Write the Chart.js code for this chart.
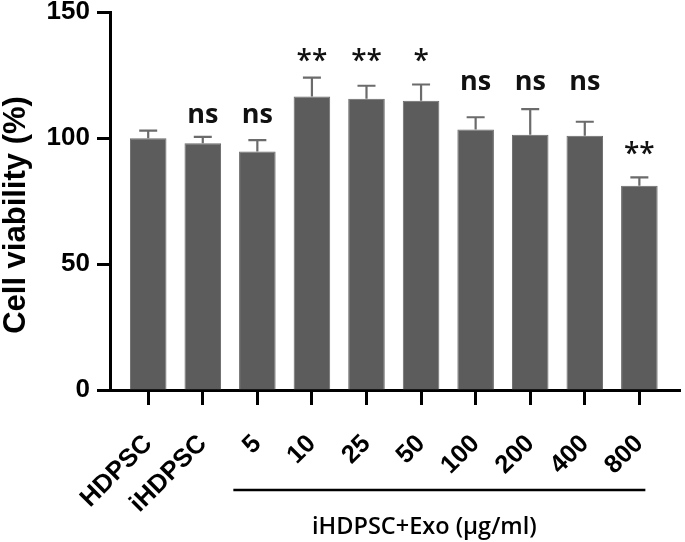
<!DOCTYPE html>
<html>
<head>
<meta charset="utf-8">
<script src="https://cdn.jsdelivr.net/npm/chart.js@4.4.0/dist/chart.umd.min.js"></script>
<style>
  body { margin: 0; background: #fff; }
  #wrap { width: 685px; height: 542px; }
</style>
</head>
<body>
<div id="wrap"><canvas id="viability"></canvas></div>
<script>
const groups = ["HDPSC", "iHDPSC", "5", "10", "25", "50", "100", "200", "400", "800"];
const viability = [100, 98, 94.7, 116.5, 115.6, 114.8, 103.4, 101.3, 100.9, 81.1];
const errorUp = [3.0, 2.5, 4.5, 7.5, 5.2, 6.5, 4.9, 10.2, 5.6, 3.3];
const significance = ["", "ns", "ns", "**", "**", "*", "ns", "ns", "ns", "**"];
const sigLevel = [0, 109, 109, 133, 133, 133, 122, 122, 122, 96];
const yTicks = [0, 50, 100, 150];
const exoFirst = 2, exoLast = 9;
const exoLabel = "iHDPSC+Exo (µg/ml)";
const yTitle = "Cell viability (%)";

// error bars (upper only) + significance marks
const errorBars = {
    id: "errorBars",
    afterDatasetsDraw(chart) {
        const ctx = chart.ctx;
        const y = chart.scales.y;
        const bars = chart.getDatasetMeta(0).data;
        ctx.save();
        ctx.strokeStyle = "#6b6b6b";
        ctx.lineWidth = 2.2;
        bars.forEach((bar, i) => {
            const top = y.getPixelForValue(viability[i] + errorUp[i]);
            ctx.beginPath();
            ctx.moveTo(bar.x, bar.y);
            ctx.lineTo(bar.x, top);
            ctx.moveTo(bar.x - 9, top);
            ctx.lineTo(bar.x + 9, top);
            ctx.stroke();
        });
        ctx.fillStyle = "#111";
        ctx.textAlign = "center";
        ctx.textBaseline = "alphabetic";
        bars.forEach((bar, i) => {
            const s = significance[i];
            if (!s) return;
            ctx.font = s === "ns" ? "bold 27px 'Open Sans'" : "600 28px 'Open Sans'";
            const m = ctx.measureText(s);
            const mid = y.getPixelForValue(sigLevel[i]);
            ctx.fillText(s, bar.x, mid + (m.actualBoundingBoxAscent - m.actualBoundingBoxDescent) / 2);
        });
        ctx.restore();
    }
};

// bracket under the exosome doses, y axis title
const extras = {
    id: "extras",
    afterDraw(chart) {
        const ctx = chart.ctx;
        const x = chart.scales.x;
        const x1 = x.getPixelForValue(exoFirst) - 24;
        const x2 = x.getPixelForValue(exoLast) + 6;
        ctx.save();
        ctx.strokeStyle = "#000";
        ctx.lineWidth = 2.5;
        ctx.beginPath();
        ctx.moveTo(x1, 490);
        ctx.lineTo(x2, 490);
        ctx.stroke();
        ctx.fillStyle = "#000";
        ctx.font = "600 23.5px 'Open Sans'";
        ctx.textAlign = "center";
        ctx.textBaseline = "middle";
        ctx.fillText(exoLabel, (x1 + x2) / 2 - 15, 527);

        ctx.translate(16, 215);
        ctx.rotate(-Math.PI / 2);
        ctx.font = "bold 31px 'Liberation Sans'";
        ctx.fillText(yTitle, 0, 0);
        ctx.restore();
    }
};

new Chart(document.getElementById("viability"), {
    type: "bar",
    data: {
        datasets: [{
            data: viability.map((v, i) => ({ x: i, y: v })),
            backgroundColor: "#5c5c5c",
            borderColor: "#6a6a6a",
            borderWidth: 1,
            barPercentage: 0.67,
            categoryPercentage: 1
        }]
    },
    options: {
        responsive: true,
        maintainAspectRatio: false,
        animation: false,
        layout: { padding: 0 },
        plugins: { legend: { display: false }, tooltip: { enabled: false } },
        scales: {
            x: {
                type: "linear",
                min: -0.7,
                max: 9.75,
                offset: false,
                afterBuildTicks: s => { s.ticks = groups.map((g, i) => ({ value: i })); },
                afterFit: s => { s.height = 152; },
                grid: { offset: false, drawOnChartArea: false, tickLength: 15, tickWidth: 3, tickColor: "#000" },
                border: { color: "#000", width: 3 },
                ticks: {
                    autoSkip: false,
                    minRotation: 45,
                    maxRotation: 45,
                    padding: 24,
                    color: "#000",
                    font: { family: "'Liberation Sans'", size: 25.5, weight: "bold" },
                    callback: v => groups[v]
                }
            },
            y: {
                min: 0,
                max: 150,
                afterBuildTicks: s => { s.ticks = yTicks.map(v => ({ value: v })); },
                afterFit: s => { s.width = 110; },
                grid: { drawOnChartArea: false, tickLength: 13, tickWidth: 3, tickColor: "#000" },
                border: { color: "#000", width: 3 },
                ticks: {
                    padding: 7,
                    color: "#000",
                    font: { family: "'Liberation Sans'", size: 26, weight: "bold", lineHeight: 0.4 }
                }
            }
        }
    },
    plugins: [errorBars, extras]
});
</script>
</body>
</html>
